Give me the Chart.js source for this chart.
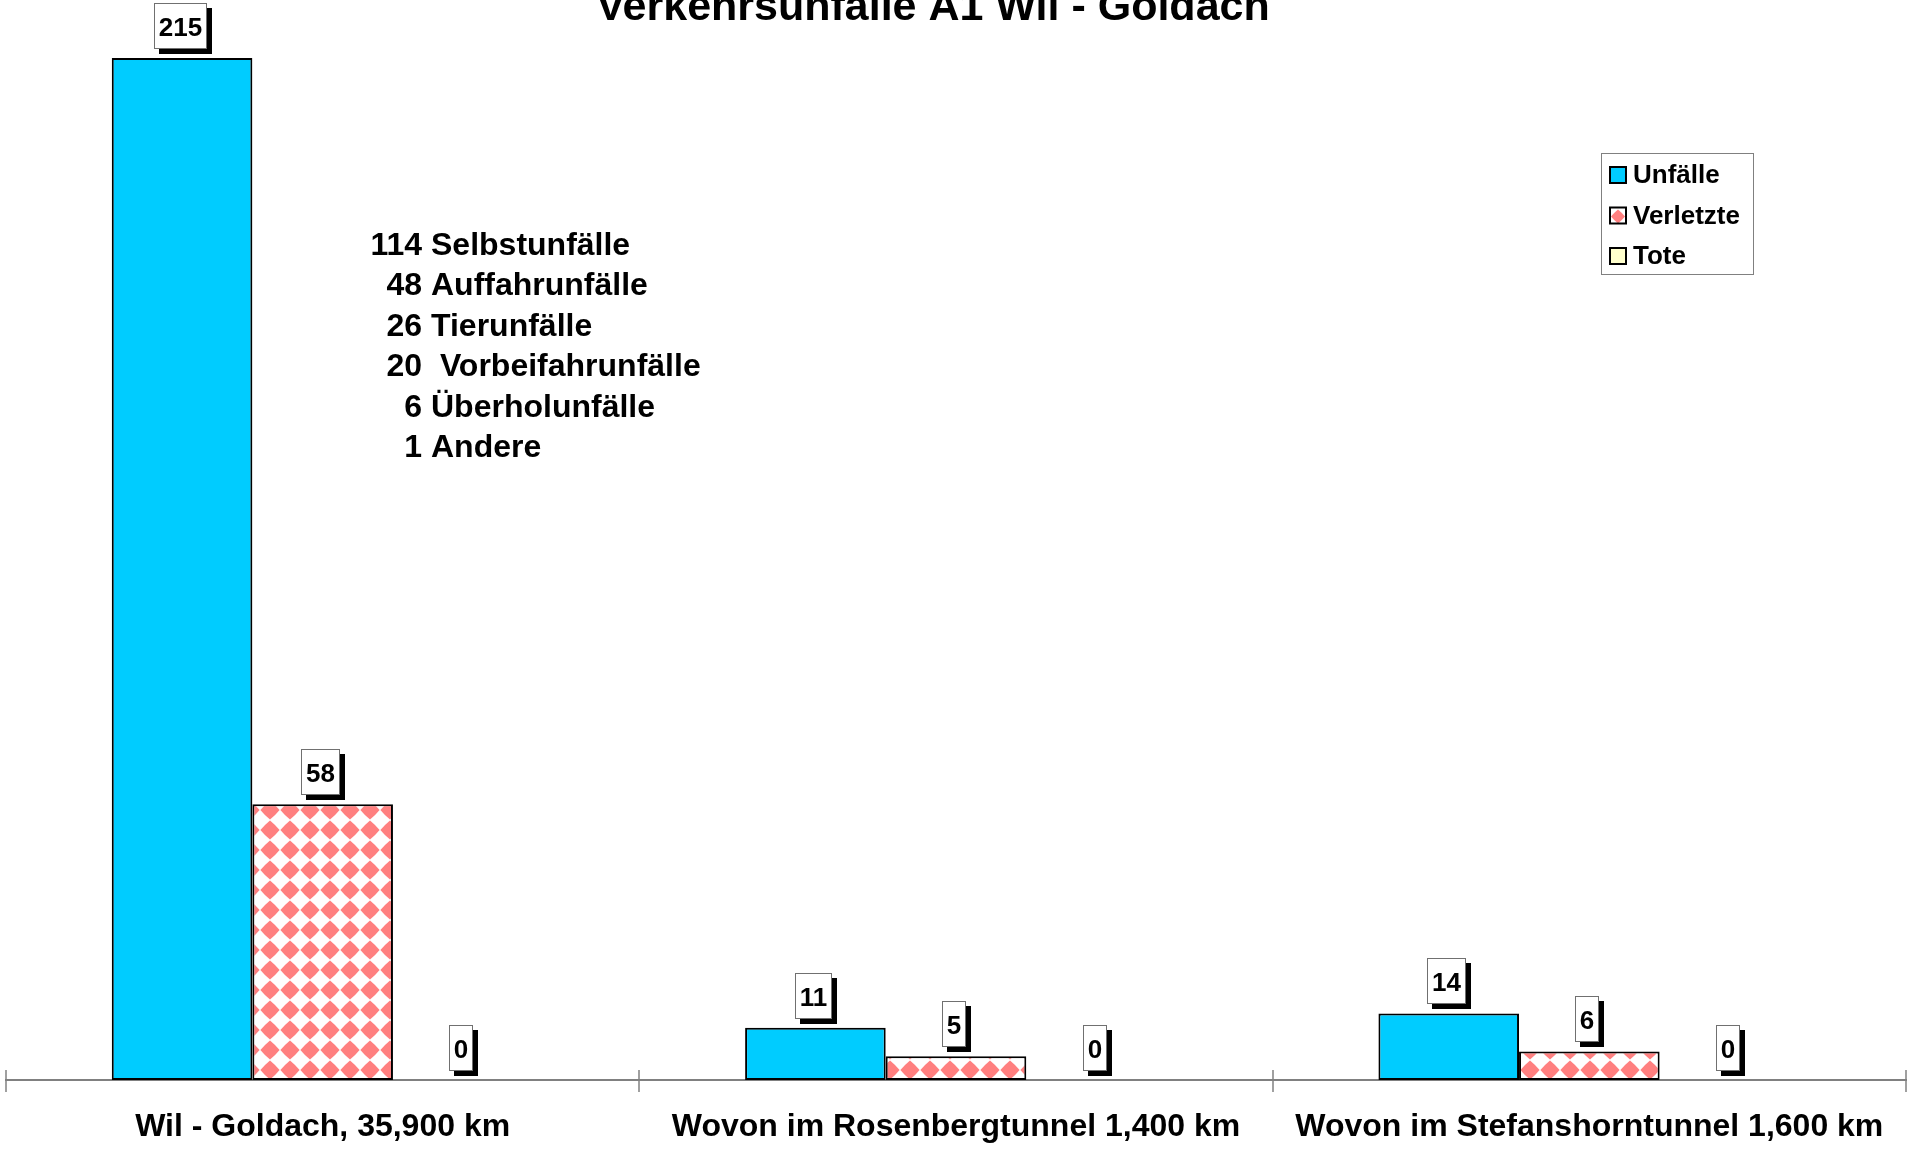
<!DOCTYPE html>
<html>
<head>
<meta charset="utf-8">
<script src="https://cdn.jsdelivr.net/npm/chart.js@4"></script>
<style>
  html, body { margin: 0; padding: 0; background: #ffffff; }
  canvas { display: block; }
</style>
</head>
<body>
<canvas id="unfallChart" width="1910" height="1149"></canvas>
<script>
// Chart data
const categories = ['Wil - Goldach, 35,900 km', 'Wovon im Rosenbergtunnel 1,400 km', 'Wovon im Stefanshorntunnel 1,600 km'];
const seriesNames = ['Unfälle', 'Verletzte', 'Tote'];
const unfaelle = [215, 11, 14];
const verletzte = [58, 5, 6];
const tote = [0, 0, 0];

// Breakdown of the accidents on the whole stretch
const breakdownCounts = [114, 48, 26, 20, 6, 1];
const breakdownTypes = ['Selbstunfälle', 'Auffahrunfälle', 'Tierunfälle', ' Vorbeifahrunfälle', 'Überholunfälle', 'Andere'];

const chartTitle = 'Verkehrsunfälle A1 Wil - Goldach';
const FONT = '"Liberation Sans", Arial, Helvetica, sans-serif';
const PINK = '#ff8080';

// draw one slightly rounded diamond
function diamond(c, cx, cy, r) {
  c.beginPath();
  c.moveTo(cx, cy - r);
  c.quadraticCurveTo(cx + r * 0.55, cy - r * 0.55, cx + r, cy);
  c.quadraticCurveTo(cx + r * 0.55, cy + r * 0.55, cx, cy + r);
  c.quadraticCurveTo(cx - r * 0.55, cy + r * 0.55, cx - r, cy);
  c.quadraticCurveTo(cx - r * 0.55, cy - r * 0.55, cx, cy - r);
  c.closePath();
  c.fill();
}

// Pink diamond pattern for the "Verletzte" bars
function makeDiamondPattern(ctx) {
  const tile = document.createElement('canvas');
  tile.width = 20;
  tile.height = 20;
  const t = tile.getContext('2d');
  t.fillStyle = '#ffffff';
  t.fillRect(0, 0, 20, 20);
  t.fillStyle = PINK;
  diamond(t, 10, 10, 9.6);
  return ctx.createPattern(tile, 'repeat');
}

const canvas = document.getElementById('unfallChart');
const ctx = canvas.getContext('2d');
const diamondPattern = makeDiamondPattern(ctx);
const seriesColors = ['#00ccff', diamondPattern, '#ffffcc'];

// Title, drawn partly above the top edge like the original
const titlePlugin = {
  id: 'topTitle',
  afterDraw(chart) {
    const c = chart.ctx;
    c.save();
    c.font = 'bold 43px ' + FONT;
    c.fillStyle = '#000';
    c.textAlign = 'center';
    c.textBaseline = 'alphabetic';
    c.fillText(chartTitle, 933, 20);
    c.restore();
  }
};

// Value boxes with a black drop shadow above each bar
const valueBoxPlugin = {
  id: 'valueBoxes',
  afterDatasetsDraw(chart) {
    const c = chart.ctx;
    c.save();
    c.font = 'bold 26px ' + FONT;
    chart.data.datasets.forEach((ds, di) => {
      const meta = chart.getDatasetMeta(di);
      meta.data.forEach((bar, i) => {
        const text = String(ds.data[i]);
        const w = c.measureText(text).width;
        const boxW = Math.round(w + 10);
        const boxH = 46;
        const boxX = Math.round(bar.x - boxW / 2 - 2);
        const boxY = Math.round(bar.y - 9 - boxH);
        c.fillStyle = '#000';
        c.fillRect(boxX + 5, boxY + 5, boxW, boxH);
        c.fillStyle = '#fff';
        c.fillRect(boxX, boxY, boxW, boxH);
        c.strokeStyle = '#707070';
        c.lineWidth = 1;
        c.strokeRect(boxX + 0.5, boxY + 0.5, boxW - 1, boxH - 1);
        c.fillStyle = '#000';
        c.textAlign = 'center';
        c.textBaseline = 'alphabetic';
        c.fillText(text, boxX + boxW / 2, boxY + boxH / 2 + 9.5);
      });
    });
    c.restore();
  }
};

// Tick marks at the category borders, crossing the axis line
const categoryTickPlugin = {
  id: 'categoryTicks',
  afterDraw(chart) {
    const x = chart.scales.x;
    const c = chart.ctx;
    const step = (x.right - x.left) / categories.length;
    c.save();
    c.strokeStyle = '#808080';
    c.lineWidth = 1.5;
    for (let i = 0; i <= categories.length; i++) {
      const px = Math.round(x.left + i * step);
      c.beginPath();
      c.moveTo(px, x.top - 10);
      c.lineTo(px, x.top + 12);
      c.stroke();
    }
    c.restore();
  }
};

// Breakdown text next to the first bar
const breakdownPlugin = {
  id: 'breakdown',
  afterDraw(chart) {
    const c = chart.ctx;
    c.save();
    c.font = 'bold 32px ' + FONT;
    c.fillStyle = '#000';
    c.textBaseline = 'alphabetic';
    breakdownCounts.forEach((n, i) => {
      const y = 255 + i * 40.4;
      c.textAlign = 'right';
      c.fillText(String(n), 422, y);
      c.textAlign = 'left';
      c.fillText(breakdownTypes[i], 431, y);
    });
    c.restore();
  }
};

// Boxed legend in the upper right
const legendPlugin = {
  id: 'boxLegend',
  afterDraw(chart) {
    const c = chart.ctx;
    c.save();
    c.fillStyle = '#fff';
    c.fillRect(1601, 153, 153, 122);
    c.strokeStyle = '#808080';
    c.lineWidth = 1;
    c.strokeRect(1601.5, 153.5, 152, 121);
    c.font = 'bold 26px ' + FONT;
    c.textAlign = 'left';
    c.textBaseline = 'middle';
    chart.data.datasets.forEach((ds, i) => {
      const cy = 175 + i * 40.5;
      if (ds.backgroundColor === diamondPattern) {
        c.fillStyle = '#fff';
        c.fillRect(1610, cy - 8, 16, 16);
        c.fillStyle = PINK;
        diamond(c, 1618, cy + 1, 7);
      } else {
        c.fillStyle = ds.backgroundColor;
        c.fillRect(1610, cy - 8, 16, 16);
      }
      c.strokeStyle = '#000';
      c.lineWidth = 2;
      c.strokeRect(1610, cy - 8, 16, 16);
      c.fillStyle = '#000';
      c.fillText(ds.label, 1633, cy + 1);
    });
    c.restore();
  }
};

const seriesData = [unfaelle, verletzte, tote];

new Chart(ctx, {
  type: 'bar',
  data: {
    labels: categories,
    datasets: seriesNames.map((name, i) => ({
      label: name,
      data: seriesData[i],
      backgroundColor: seriesColors[i],
      borderColor: '#000000',
      borderWidth: 2,
      borderSkipped: false,
      categoryPercentage: 0.666,
      barPercentage: 1.0
    }))
  },
  options: {
    responsive: false,
    devicePixelRatio: 1,
    animation: false,
    layout: {
      padding: { top: 58, left: 6, right: 4, bottom: 0 }
    },
    scales: {
      x: {
        grid: { display: false },
        border: { display: true, color: '#808080', width: 2 },
        ticks: {
          color: '#000',
          font: { family: FONT, size: 32, weight: 'bold' },
          padding: 20,
          autoSkip: false,
          maxRotation: 0
        },
        afterFit(scale) {
          // keep the axis line at the original height
          scale.height = 69;
        }
      },
      y: {
        display: false,
        min: 0,
        max: 215
      }
    },
    plugins: {
      legend: { display: false },
      tooltip: { enabled: false }
    }
  },
  plugins: [categoryTickPlugin, valueBoxPlugin, breakdownPlugin, legendPlugin, titlePlugin]
});
</script>
</body>
</html>
